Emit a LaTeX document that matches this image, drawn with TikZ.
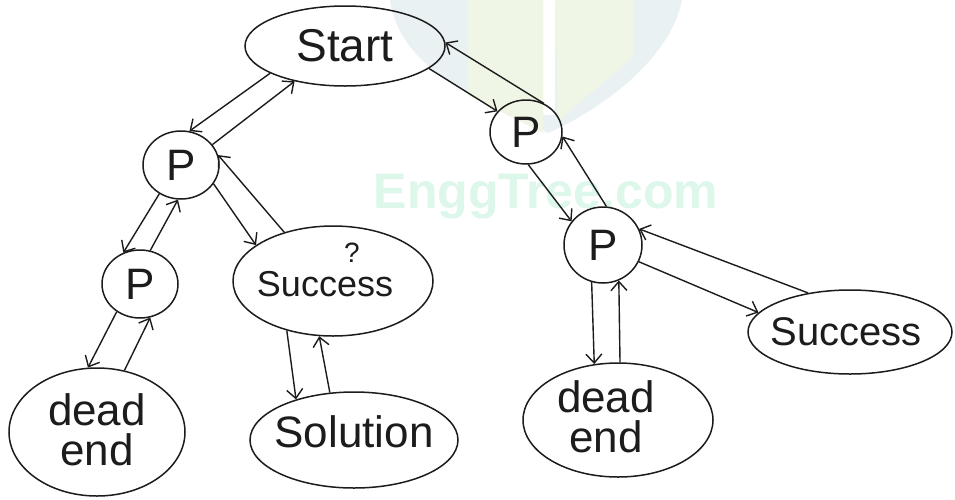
\documentclass[tikz,border=0pt]{standalone}
\usepackage{fontspec}
\setmainfont{Liberation Sans}
\usetikzlibrary{shapes.geometric,arrows.meta}
\definecolor{ink}{HTML}{1C1C1C}
\definecolor{wmgreen}{HTML}{DDF7EA}
\definecolor{logoblue}{HTML}{E9F1F3}
\definecolor{logogreen}{HTML}{EFF6E6}

\begin{document}
\begin{tikzpicture}[x=1pt,y=-1pt,
  state/.style={ellipse, draw=ink, line width=1.5pt, inner sep=0pt},
  word/.style={font=\fontsize{#1}{#1}\selectfont, text=ink, align=center},
  link/.style={draw=ink, line width=1.4pt, -{Straight Barb[length=9pt,width=16pt]}},
]
% canvas
\fill[white] (0,0) rectangle (955,499);
\useasboundingbox (0,0) rectangle (955,499);

% faint logo and site mark in the background
\fill[logoblue] (390,0) .. controls (400,70) and (480,100) .. (548,133)
  .. controls (600,110) and (670,60) .. (682,0) -- cycle;
\fill[white] (543,0) rectangle (555,115);
\fill[logogreen] (468,0) -- (543,0) -- (543,133) -- (468,95) -- cycle;
\fill[logogreen] (555,0) -- (633,0) -- (633,55)
  .. controls (610,80) and (580,100) .. (558,122) -- cycle;
\node[anchor=base, text=wmgreen, font=\fontsize{50}{50}\selectfont\bfseries]
  (site) at (546,208) {EnggTree.com};

% states
\node[state, minimum width=200pt, minimum height=80pt,
  label={[word=46]center:Start}] (start) at (345,46) {};
\node[state, minimum width=76pt, minimum height=68pt,
  label={[word=44]center:P}] (p1) at (181,165) {};
\node[state, minimum width=76pt, minimum height=68pt,
  label={[word=44]center:P}] (p2) at (140,284) {};
\node[state, minimum width=200pt, minimum height=110pt,
  label={[word=36, yshift=-3pt, xshift=-8pt]center:Success}] (succ1) at (333,281) {};
\node[word=28] (qmark) at (352,253) {?};
\node[state, minimum width=176pt, minimum height=128pt,
  label={[word=44, yshift=2pt]center:dead\\[-4pt]end}] (dead1) at (97,432) {};
\node[state, minimum width=208pt, minimum height=96pt,
  label={[word=44, yshift=8pt]center:Solution}] (sol) at (354,440) {};
\node[state, minimum width=72pt, minimum height=64pt,
  label={[word=44]center:P}] (p3) at (526,132) {};
\node[state, minimum width=78pt, minimum height=76pt,
  label={[word=44]center:P}] (p4) at (603,245) {};
\node[state, minimum width=190pt, minimum height=114pt,
  label={[word=44, xshift=-12pt, yshift=3pt]center:dead\\[-4pt]end}] (dead2) at (618,420) {};
\node[state, minimum width=204pt, minimum height=84pt,
  label={[word=40, xshift=-4pt]center:Success}] (succ2) at (850,332) {};

% forward moves (down) and backtracking moves (up)
\draw[link] (start.200) -- (p1.76);
\draw[link] (p1.33) -- (start.215);
\draw[link] (p1.233) -- (p2.118);
\draw[link] (p2.73) -- (p1.265);
\draw[link] (p1.330) -- (succ1.155);
\draw[link] (succ1.135) -- (p1.15);
\draw[link] (p2.230) -- (dead1.98);
\draw[link] (dead1.66) -- (p2.287);
\draw[link] (succ1.227) -- (sol.145);
\draw[link] (sol.117) -- (succ1.256);
\draw[link] (start.345) -- (p3.144);
\draw[link] (p3.58) -- (start.2);
\draw[link] (p3.274) -- (p4.143);
\draw[link] (p4.85) -- (p3.353);
\draw[link] (p4.335) -- (succ2.168);
\draw[link] (succ2.137) -- (p4.24);
\draw[link] (p4.253) -- (dead2.113);
\draw[link] (dead2.88) -- (p4.294);
\end{tikzpicture}
\end{document}
